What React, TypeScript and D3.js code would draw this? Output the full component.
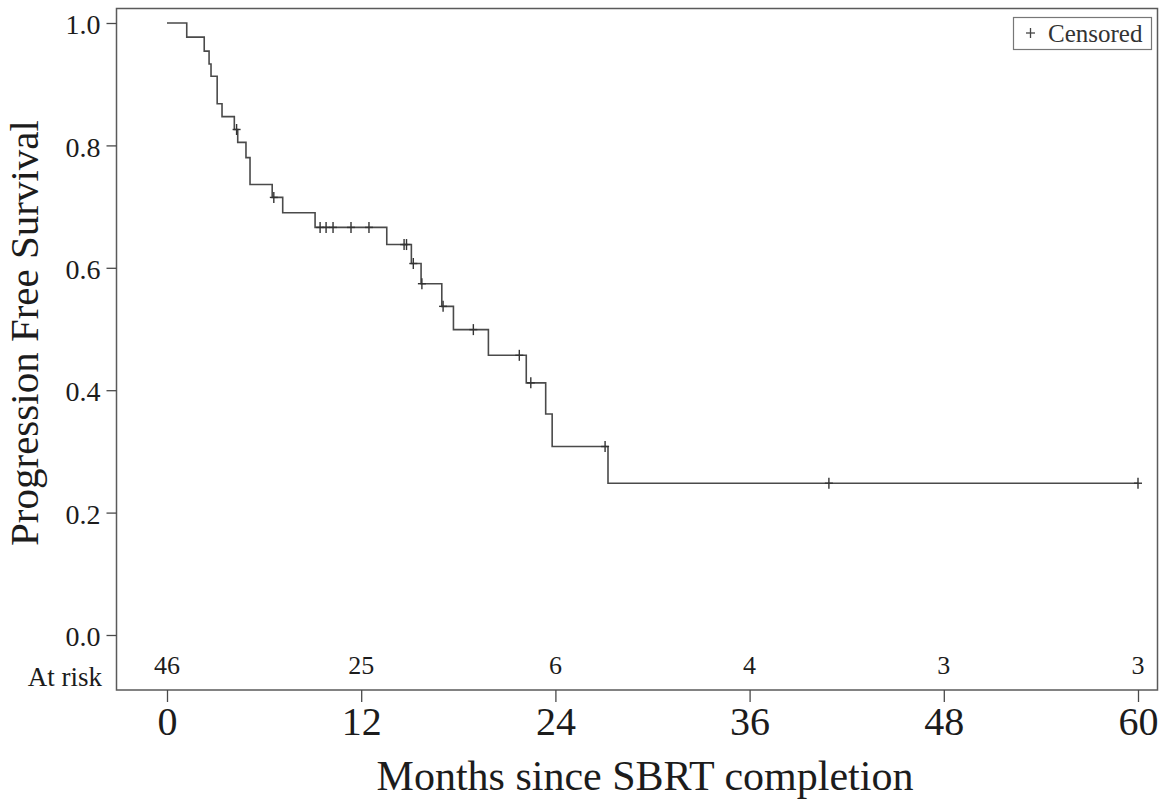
import * as d3 from "d3";
import { useRef, useEffect } from "react";

// step times (months) and survival after each drop
const stepTimes = [0, 1.22, 2.3, 2.6, 2.72, 3.1, 3.4, 4.16, 4.37, 4.88, 5.13, 6.5, 7.15, 9.15, 13.58, 15.1, 15.7, 16.98, 17.7, 19.86, 22.2, 23.4, 23.8, 27.25];
const stepSurvival = [1.0, 0.977, 0.954, 0.933, 0.913, 0.868, 0.847, 0.826, 0.805, 0.78, 0.736, 0.715, 0.69, 0.666, 0.638, 0.607, 0.574, 0.537, 0.499, 0.457, 0.412, 0.361, 0.308, 0.248];
const followUpEnd = 60;

// censored observations (months)
const censorTimes = [4.3, 6.6, 9.46, 9.83, 10.26, 11.37, 12.48, 14.65, 14.8, 15.22, 15.75, 17.06, 18.93, 21.77, 22.48, 27.07, 40.9, 60];

const xTicks = [0, 12, 24, 36, 48, 60];
const yTicks = [0, 0.2, 0.4, 0.6, 0.8, 1.0];
const atRiskTimes = [0, 12, 24, 36, 48, 60];
const atRiskCounts = [46, 25, 6, 4, 3, 3];

const W = 1161;
const H = 802;
const frame = { left: 116.5, top: 8.5, right: 1157.5, bottom: 690 };
const serif = "'Liberation Serif', 'Times New Roman', serif";
const lineColor = "#4a4a4a";
const textColor = "#1c1c1c";

export default function App() {
  const gx = useRef<SVGGElement | null>(null);
  const gy = useRef<SVGGElement | null>(null);

  const x = d3.scaleLinear([0, 60], [167, 1138]);
  const y = d3.scaleLinear([0, 1], [635, 23]);

  const points: [number, number][] = stepTimes.map((t, i) => [t, stepSurvival[i]]);
  points.push([followUpEnd, stepSurvival[stepSurvival.length - 1]]);

  const line = d3.line<[number, number]>()
    .x((d) => x(d[0]))
    .y((d) => y(d[1]))
    .curve(d3.curveStepAfter);

  const bisect = d3.bisector((t: number) => t).right;
  const survivalAt = (t: number) => stepSurvival[Math.max(0, bisect(stepTimes, t) - 1)];

  useEffect(() => {
    if (gx.current) {
      const g = d3.select(gx.current);
      g.call(d3.axisBottom(x).tickValues(xTicks).tickFormat(d3.format("d")).tickSize(12).tickPadding(5));
      g.select(".domain").remove();
      g.selectAll("line").attr("stroke", lineColor).attr("stroke-width", 1.3);
      g.selectAll("text").attr("fill", textColor).style("font-family", serif).style("font-size", "40px");
    }
  }, [x]);

  useEffect(() => {
    if (gy.current) {
      const g = d3.select(gy.current);
      g.call(d3.axisLeft(y).tickValues(yTicks).tickFormat(d3.format(".1f")).tickSize(10).tickPadding(6));
      g.select(".domain").remove();
      g.selectAll("line").attr("stroke", lineColor).attr("stroke-width", 1.3);
      g.selectAll("text")
        .attr("fill", textColor)
        .attr("dy", "0.38em")
        .style("font-family", serif)
        .style("font-size", "28px");
    }
  }, [y]);

  return (
    <svg width={W} height={H} style={{ position: "absolute", left: 0, top: 0, background: "#fff" }}>
      <rect
        x={frame.left}
        y={frame.top}
        width={frame.right - frame.left}
        height={frame.bottom - frame.top}
        fill="none"
        stroke="#5a5a5a"
        strokeWidth={1.5}
      />

      <g ref={gx} transform={`translate(0,${frame.bottom})`} />
      <g ref={gy} transform={`translate(${frame.left},0)`} />

      {/* survival curve */}
      <path d={line(points) ?? undefined} fill="none" stroke={lineColor} strokeWidth={1.6} />

      {/* censor marks */}
      <g stroke="#333" strokeWidth={1.4}>
        {censorTimes.map((t, i) => {
          const cx = x(t);
          const cy = y(survivalAt(t));
          return (
            <g key={i}>
              <line x1={cx - 4} x2={cx + 4} y1={cy} y2={cy} />
              <line x1={cx} x2={cx} y1={cy - 5.5} y2={cy + 5.5} />
            </g>
          );
        })}
      </g>

      {/* at risk row */}
      <g fontFamily={serif} fill={textColor}>
        {atRiskTimes.map((t, i) => (
          <text key={i} x={x(t)} y={674} textAnchor="middle" fontSize={26}>
            {atRiskCounts[i]}
          </text>
        ))}
        <text x={102} y={686} textAnchor="end" fontSize={27}>At risk</text>
      </g>

      {/* legend */}
      <rect x={1013.5} y={17.5} width={138} height={32} fill="none" stroke="#777" strokeWidth={1.2} />
      <g stroke="#444" strokeWidth={1.3}>
        <line x1={1026} x2={1035} y1={33} y2={33} />
        <line x1={1030.5} x2={1030.5} y1={28} y2={38} />
      </g>
      <text x={1048} y={42} fontFamily={serif} fontSize={25} fill="#333">Censored</text>

      {/* axis titles */}
      <text x={645} y={790} textAnchor="middle" fontFamily={serif} fontSize={42} fill={textColor}>
        Months since SBRT completion
      </text>
      <text
        transform="translate(38,333) rotate(-90)"
        textAnchor="middle"
        fontFamily={serif}
        fontSize={41}
        fill={textColor}
      >
        Progression Free Survival
      </text>
    </svg>
  );
}
